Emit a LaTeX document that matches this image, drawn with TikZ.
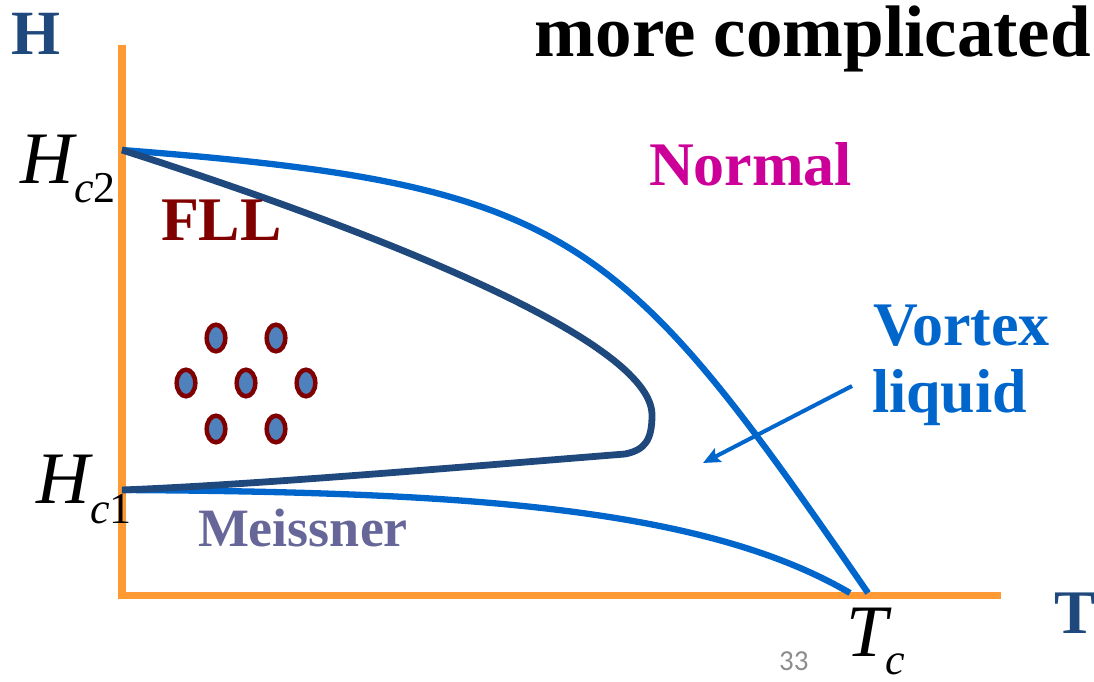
\documentclass[tikz,border=0pt]{standalone}
\usepackage{fontspec}
\setmainfont{Liberation Serif}
\newfontfamily\slidenumfont{Carlito}
\usetikzlibrary{arrows.meta}
\definecolor{axisor}{HTML}{FF9933}
\definecolor{lineblue}{HTML}{0066CC}
\definecolor{darkline}{HTML}{1F497D}
\definecolor{fllred}{HTML}{800000}
\definecolor{normalmag}{HTML}{CC0099}
\definecolor{meisscol}{HTML}{666699}
\definecolor{vortexfill}{HTML}{4F81BD}
\definecolor{numgray}{HTML}{8C8C8C}
\tikzset{
  axisline/.style={draw=axisor, line width=7.5},
  phaseline/.style={draw=lineblue, line width=6.3},
  fllline/.style={draw=darkline, line width=6.8, line join=round},
  vortex/.style={draw=fllred, fill=vortexfill, line width=4.5},
  lbl/.style={inner sep=0pt, outer sep=0pt, font=\bfseries\fontsize{#1}{#1}\selectfont},
  mathlbl/.style={inner sep=0pt, outer sep=0pt, anchor=base west}
}
\begin{document}
\begin{tikzpicture}[x=1pt,y=-1pt]
\useasboundingbox (0,0) rectangle (1094,682);
% key points
\coordinate (hc2) at (122,150);
\coordinate (hc1) at (122,490);
\coordinate (tc) at (868,593);
\coordinate (tcl) at (850,593);
\coordinate (tip) at (652,415);
\coordinate (knee) at (625,454);
\coordinate (arrstart) at (852,386);
\coordinate (arrend) at (703,463);
\coordinate (ytop) at (122,45);
\coordinate (origin) at (122,599);
\coordinate (xorigin) at (118,595.5);
\coordinate (xend) at (1001,595.5);
% axes
\draw[axisline] (origin) -- (ytop);
\draw[axisline] (xorigin) -- (xend);
% upper phase line (Hc2 to Tc)
\draw[phaseline] (hc2) .. controls (572,185) and (618,230) .. (tc);
% lower phase line (Hc1 to Tc)
\draw[phaseline] (hc1) .. controls (450,492) and (700,505) .. (tcl);
% FLL boundary
\draw[fllline] (hc2) .. controls (372,230) and (652,340) .. (tip)
  .. controls (652,440) and (645,450) .. (knee)
  .. controls (450,468) and (250,485) .. (hc1);
% arrow
\draw[draw=lineblue, line width=4, -{Stealth[length=17,width=15,inset=3]}] (arrstart) -- (arrend);
% vortices
\foreach \n/\cx/\cy in {v1/216/338, v2/276/338, v3/186/383, v4/246/383, v5/306/383, v6/216/429, v7/276/429}{
  \draw[vortex] (\cx,\cy) ellipse [x radius=9.3, y radius=13.3];
}
% labels
\node[lbl=63, text=darkline, anchor=base west] (Hlbl) at (12,55) {H};
\node[lbl=73, text=black, anchor=base east] (title) at (1091,57) {more complicated};
\node[lbl=62, text=normalmag, anchor=base west] (normal) at (649,185) {Normal};
\node[lbl=62, text=fllred, anchor=base west] (fll) at (161,240) {FLL};
\node[lbl=62, text=lineblue, anchor=base west] (vort1) at (873,345) {Vortex};
\node[lbl=62, text=lineblue, anchor=base west] (vort2) at (872,412) {liquid};
\node[lbl=54, text=meisscol, anchor=base west] (meiss) at (198,546) {Meissner};
\node[lbl=62, text=darkline, anchor=base west] (Tlbl) at (1054,633) {T};
% math labels
\node[mathlbl] (hc2lbl) at (20,183) {\fontsize{74}{74}\selectfont\itshape H\hspace{1pt}\fontsize{44}{44}\selectfont\raisebox{-19pt}{\itshape c}\raisebox{-19pt}{\upshape 2}};
\node[mathlbl] (hc1lbl) at (36,503) {\fontsize{74}{74}\selectfont\itshape H\hspace{1pt}\fontsize{44}{44}\selectfont\raisebox{-20pt}{\itshape c}\raisebox{-20pt}{\upshape 1}};
\node[mathlbl] (tclbl) at (846,656) {\fontsize{74}{74}\selectfont\itshape T\hspace{-2pt}\fontsize{44}{44}\selectfont\raisebox{-18pt}{\itshape c}};
\node[inner sep=0pt, anchor=base west, text=numgray, font=\slidenumfont\fontsize{29}{29}\selectfont] (pagenum) at (779,670) {33};
\end{tikzpicture}
\end{document}
